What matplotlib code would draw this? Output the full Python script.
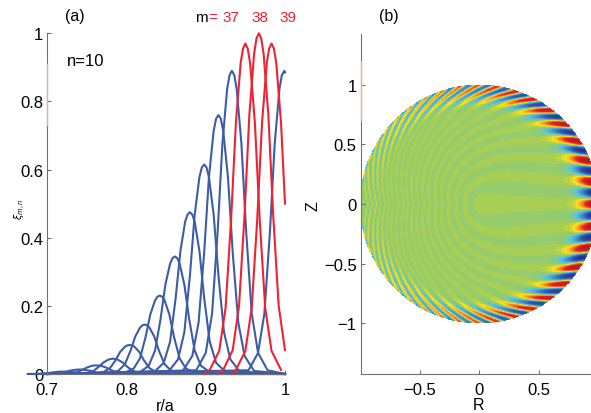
import numpy as np
import matplotlib
matplotlib.use('Agg')
import matplotlib.pyplot as plt
from matplotlib.colors import LinearSegmentedColormap

plt.rcParams['font.family'] = ['Liberation Sans', 'DejaVu Sans']

# radial profiles, one pair of lists per poloidal mode
m25_r = [.675, .687, .695, .702, .708, .714, .717, .720, .723, .726, .732, .738, .745, .753, .765]
m25_y = [0, .0005, .0014, .003, .005, .0066, .0069, .007, .0069, .0066, .005, .003, .0014, .0005, 0]
m26_r = [.696, .708, .716, .723, .729, .735, .738, .741, .744, .747, .753, .759, .766, .774, .786]
m26_y = [0, .001, .003, .006, .01, .012, .013, .013, .013, .012, .01, .006, .003, .001, 0]
m27_r = [.717, .729, .737, .744, .750, .756, .759, .762, .765, .768, .774, .780, .787, .795, .807]
m27_y = [0, .002, .005, .012, .019, .024, .025, .025, .025, .024, .019, .012, .005, .002, 0]
m28_r = [.738, .750, .758, .765, .771, .777, .780, .783, .786, .789, .795, .801, .808, .816, .828]
m28_y = [.001, .003, .009, .021, .034, .042, .044, .045, .044, .042, .034, .021, .009, .003, .001]
m29_r = [.759, .771, .779, .786, .792, .798, .801, .804, .807, .810, .816, .822, .829, .837, .849]
m29_y = [.001, .006, .017, .04, .065, .08, .084, .085, .084, .08, .065, .04, .017, .006, .001]
m30_r = [.778, .790, .798, .805, .811, .817, .820, .823, .826, .829, .835, .841, .848, .856, .868]
m30_y = [.002, .01, .029, .068, .11, .136, .143, .145, .143, .136, .11, .068, .029, .01, .002]
m31_r = [.797, .809, .817, .824, .830, .836, .839, .842, .845, .848, .854, .860, .867, .875, .887]
m31_y = [.003, .016, .046, .108, .175, .216, .227, .23, .227, .216, .175, .108, .046, .016, .003]
m32_r = [.816, .828, .836, .843, .849, .855, .858, .861, .864, .867, .873, .879, .886, .894, .906]
m32_y = [.004, .024, .069, .162, .262, .324, .34, .345, .34, .324, .262, .162, .069, .024, .004]
m33_r = [.835, .847, .855, .862, .868, .874, .877, .880, .883, .886, .892, .898, .905, .913, .925]
m33_y = [.006, .033, .095, .223, .361, .447, .468, .475, .468, .447, .361, .223, .095, .033, .006]
m34_r = [.853, .865, .873, .880, .886, .892, .895, .898, .901, .904, .910, .916, .923, .931, .943]
m34_y = [.007, .043, .123, .289, .467, .578, .606, .615, .606, .578, .467, .289, .123, .043, .007]
m35_r = [.871, .883, .891, .898, .904, .910, .913, .916, .919, .922, .928, .934, .941, .949, .961]
m35_y = [.009, .053, .152, .357, .578, .714, .749, .76, .749, .714, .578, .357, .152, .053, .009]
m36_r = [.888, .900, .908, .915, .921, .927, .930, .933, .936, .939, .945, .951, .958, .966, .978]
m36_y = [.011, .062, .178, .418, .676, .837, .877, .89, .877, .837, .676, .418, .178, .062, .011]
m37_r = [.898, .905, .917, .925, .932, .938, .944, .947, .950, .953, .956, .962, .968, .975, .983, .995]
m37_y = [0, .012, .068, .194, .456, .737, .912, .955, .97, .955, .912, .737, .456, .194, .068, .012]
m38_r = [.915, .922, .934, .942, .949, .955, .961, .964, .967, .970, .973, .979, .985, .992, 1.0]
m38_y = [0, .012, .07, .2, .47, .76, .94, .985, 1, .985, .94, .76, .47, .2, .07]
m39_r = [.932, .938, .950, .958, .965, .971, .977, .980, .983, .986, .989, .995, 1.0]
m39_y = [0, .012, .068, .194, .456, .737, .912, .955, .97, .955, .912, .737, .50]
m40_r = [.954, .966, .974, .981, .987, .993, .996, .9992, 1.0]
m40_y = [.011, .062, .178, .418, .676, .837, .877, .89, .885]

blue_modes = [(m25_r, m25_y), (m26_r, m26_y), (m27_r, m27_y), (m28_r, m28_y), (m29_r, m29_y),
              (m30_r, m30_y), (m31_r, m31_y), (m32_r, m32_y), (m33_r, m33_y), (m34_r, m34_y),
              (m35_r, m35_y), (m36_r, m36_y), (m40_r, m40_y)]
red_modes = [(m37_r, m37_y), (m38_r, m38_y), (m39_r, m39_y)]
mode_numbers = [25, 26, 27, 28, 29, 30, 31, 32, 33, 34, 35, 36, 40, 37, 38, 39]

xticks_a = [0.7, 0.8, 0.9, 1]
xticklabels_a = ['0.7', '0.8', '0.9', '1']
yticks_a = [0, 0.2, 0.4, 0.6, 0.8, 1]
yticklabels_a = ['0', '0.2', '0.4', '0.6', '0.8', '1']
ticks_b = [-1, -0.5, 0, 0.5, 1]
red_labels = ['37', '38', '39']

W, H = 591., 414.
fig = plt.figure(figsize=(5.91, 4.14), dpi=100)
fig.patch.set_facecolor('white')

def box(l, t, r, b):
    return [l / W, (H - b) / H, (r - l) / W, (b - t) / H]

gray = '#707070'
blue = '#3c5ca8'
red = '#ee2232'
smear = '#f0b090'

# panel (a)
ax = fig.add_axes(box(47.3, 34.3, 285, 375))
for r, y in blue_modes:
    ax.plot(np.r_[0.7, r, 1.0], np.r_[0, y, 0 if r is not m40_r else y[-1]], color=blue, lw=1.5, clip_on=False)
for r, y in red_modes:
    ax.plot(r, y, color=red, lw=1.5, clip_on=False)
ax.set_xlim(0.7, 1)
ax.set_ylim(0, 1)
ax.set_xticks(xticks_a)
ax.set_xticklabels(xticklabels_a)
ax.set_yticks(yticks_a)
ax.set_yticklabels(yticklabels_a)

# panel (b): no cell values can be read from the picture, so the field is a
# mode sum computed from the radial profiles above, plus a weak spiral term
# (an approximation) for the pale arcs in the core
ax2 = fig.add_axes(box(360.7, 35, 591, 375))
R, Z = np.meshgrid(np.linspace(-1, 1, 700), np.linspace(-1, 1, 700))
rho = np.hypot(R, Z)
th = np.arctan2(Z, R)
thstar = th - 0.15 * np.sin(th)
field = np.zeros_like(R)
for m, (r, y) in zip(mode_numbers, blue_modes + red_modes):
    field += np.interp(rho, r, y, left=0, right=y[-1]) * np.cos(m * thstar)
field += 0.045 * np.minimum(rho / 0.2, 1) * np.cos(42 * rho ** 1.4 * thstar)
field = np.ma.masked_where(rho > 1, field)
cmap = LinearSegmentedColormap.from_list('jetlike', [
    (0.0, '#23368f'), (0.2, '#2f62b5'), (0.43, '#5cc3dd'), (0.5, '#9ccc5c'),
    (0.57, '#fde21a'), (0.8, '#e8202a'), (1.0, '#b81c1c')], N=64)
ax2.pcolormesh(R, Z, field, cmap=cmap, vmin=-2, vmax=2, shading='auto', rasterized=True)
ax2.set_xlim(-0.992, 0.935)
ax2.set_ylim(-1.423, 1.423)
ax2.set_xticks(ticks_b[1:-1])
ax2.set_xticklabels(['\u22120.5', '0', '0.5'])
ax2.set_yticks(ticks_b)
ax2.set_yticklabels(['\u22121', '\u22120.5', '0', '0.5', '1'])

for a in (ax, ax2):
    a.spines['top'].set_visible(False)
    a.spines['right'].set_visible(False)
    a.spines['left'].set_color(gray)
    a.spines['bottom'].set_color(gray)
    a.tick_params(direction='in', length=3, width=0.8, color=gray, labelsize=12, pad=3)
    a.tick_params(axis='x', pad=5.5)
ax.set_zorder(3)

def put(x, y, s, **kw):
    fig.text(x / W, 1 - y / H, s, ha=kw.pop('ha', 'center'), va='center', **kw)

# faint orange smear on both left axes around y pixels 62-122
ax.plot([0.7, 0.7], [0.73, 0.91], color=smear, lw=1, clip_on=False, zorder=5)
ax2.plot([ax2.get_xlim()[0]] * 2, [0.7, 1.2], color=smear, lw=1, clip_on=False, zorder=5)

put(75, 17, '(a)', fontsize=11.5)
put(389, 17, '(b)', fontsize=11.5)
put(86, 62, 'n=10', fontsize=12)
put(201, 18, 'm', fontsize=11)
put(213, 18, '=', fontsize=11, color=red)
for xp, s in zip([231, 260, 288], red_labels):
    put(xp, 18, s, fontsize=11, color=red)
put(165, 407, 'r/a', fontsize=11.5)
put(479, 406, 'R', fontsize=11.5)
put(313, 206, 'Z', fontsize=11.5, rotation=90)
put(20, 209, r'$\xi_{m,n}$', fontsize=7, rotation=90)

fig.savefig('out.png', dpi=100)
